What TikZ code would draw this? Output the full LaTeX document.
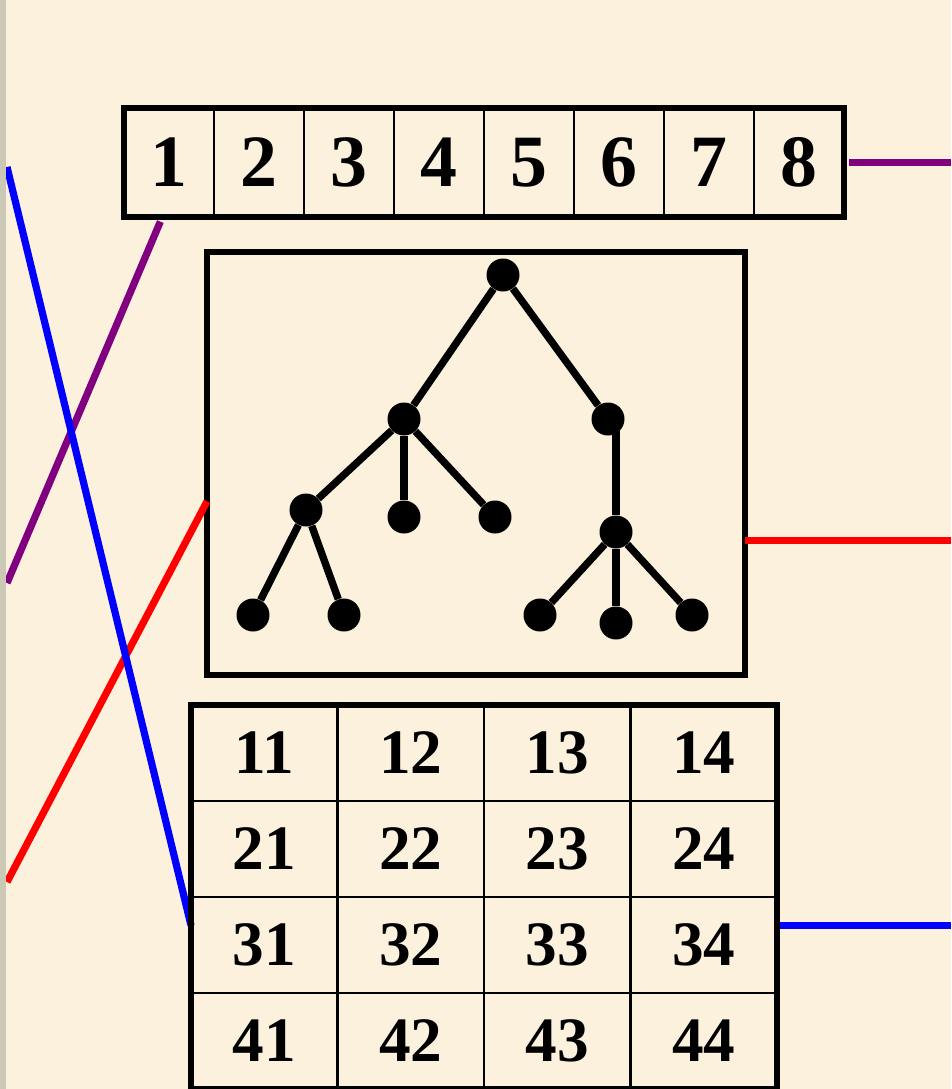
\documentclass[tikz,border=0pt]{standalone}
\usepackage{fontspec}
\setmainfont{Liberation Serif}
\definecolor{paper}{RGB}{252,241,220}
\definecolor{edgestrip}{RGB}{204,200,182}
\definecolor{linkpurple}{RGB}{128,0,128}
\begin{document}
\begin{tikzpicture}[x=0.02cm, y=-0.02cm,
    cell/.style={draw, line width=1.4pt, inner sep=0pt, outer sep=0pt,
      minimum width=1.8cm, minimum height=2.18cm, font=\fontsize{42}{42}\selectfont\bfseries},
    gcell/.style={draw, line width=1.5pt, inner sep=0pt, outer sep=0pt,
      minimum width=2.93cm, minimum height=1.92cm, font=\fontsize{36}{36}\selectfont\bfseries},
    boldframe/.style={draw, line width=3.2pt},
    dot/.style={circle, fill=black, inner sep=0pt, minimum size=0.66cm},
    branch/.style={line width=4.2pt},
    link/.style={line width=4.1pt},
  ]
  \useasboundingbox (0,0) rectangle (951,1089);
  \clip (0,0) rectangle (951,1089);
  \fill[paper] (0,0) rectangle (951,1089);

  % one-dimensional array
  \foreach \i in {1,...,8}
    \node[cell] (a\i) at ({124+90*(\i-0.5)},162.5) {\i};

  % tree
  \node[draw, line width=3.2pt, inner sep=0pt, outer sep=0pt,
    minimum width=10.76cm, minimum height=8.46cm] (tbox) at (476,463.5) {};
  \node[dot] (t0) at (503,275) {};
  \node[dot] (t1) at (404,419) {};
  \node[dot] (t2) at (608,419) {};
  \node[dot] (t11) at (306,510) {};
  \node[dot] (t12) at (404,517) {};
  \node[dot] (t13) at (495,517) {};
  \node[dot] (t21) at (616,532) {};
  \node[dot] (t111) at (253,615) {};
  \node[dot] (t112) at (344,615) {};
  \node[dot] (t211) at (540,615) {};
  \node[dot] (t212) at (616,623) {};
  \node[dot] (t213) at (692,615) {};
  \foreach \a/\b in {t0/t1, t0/t2, t1/t11, t1/t12, t1/t13, t11/t111, t11/t112,
      t21/t211, t21/t212, t21/t213}
    \draw[branch] (\a) -- (\b);
  \draw[branch] (t21 |- t2) -- (t21);

  % two-dimensional array
  \foreach \r in {1,...,4}
    \foreach \c in {1,...,4}
      \node[gcell] (g\r\c) at ({191+146.5*(\c-0.5)},{705+96*(\r-0.5)}) {\r\c};

  % links
  \coordinate (bL) at (7,167);
  \coordinate (pL) at (7,583);
  \coordinate (rL) at (7,882);
  \coordinate (eR) at (951,0);
  \draw[link, linkpurple, shorten <=0.1cm] (a1.-97) -- (pL);
  \draw[link, linkpurple, shorten <=0.1cm] (a8.east) -- (a8.east -| eR);
  \draw[link, red] (tbox.188) -- (rL);
  \draw[link, red] (tbox.-16) -- (tbox.-16 -| eR);
  \draw[link, blue] (g31.165) -- (bL);
  \draw[link, blue] (g34.15) -- (g34.15 -| eR);

  \draw[boldframe] (a1.north west) rectangle (a8.south east);
  \draw[boldframe] (g11.north west) rectangle (g44.south east);
  \fill[edgestrip] (0,0) rectangle (6,1089);
\end{tikzpicture}
\end{document}
